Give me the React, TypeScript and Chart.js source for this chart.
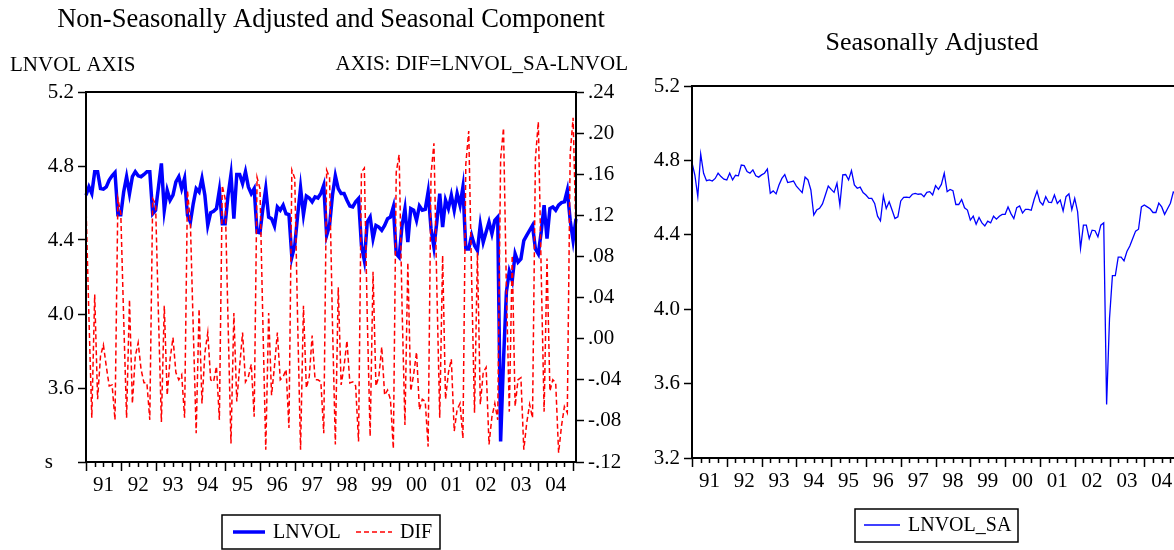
import React, { useEffect, useRef } from 'react';
import { Chart, registerables } from 'chart.js';

Chart.register(...registerables);

const FONT = '"Liberation Serif", "Times New Roman", serif';

const START_YEAR = 1991;
const yearLabels = ['91', '92', '93', '94', '95', '96', '97', '98', '99', '00', '01', '02', '03', '04'];

const leftTitle = 'Non-Seasonally Adjusted and Seasonal Component';
const rightTitle = 'Seasonally Adjusted';
const leftAxisCaption = 'LNVOL AXIS';
const rightAxisCaption = 'AXIS: DIF=LNVOL_SA-LNVOL';

// LNVOL (monthly, 1991M01 ... 2005M02)
const lnvol = [
  4.642, 4.687, 4.651, 4.769, 4.769, 4.678, 4.675, 4.687, 4.724, 4.747, 4.765, 4.537,
  4.537, 4.660, 4.742, 4.651, 4.742, 4.769, 4.747, 4.742, 4.754, 4.769, 4.769, 4.542,
  4.561, 4.687, 4.814, 4.561, 4.669, 4.615, 4.642, 4.714, 4.742, 4.678, 4.733, 4.533,
  4.497, 4.597, 4.678, 4.660, 4.733, 4.642, 4.479, 4.548, 4.555, 4.570, 4.669, 4.488,
  4.488, 4.642, 4.754, 4.515, 4.754, 4.754, 4.705, 4.769, 4.687, 4.651, 4.678, 4.443,
  4.439, 4.570, 4.678, 4.524, 4.515, 4.475, 4.579, 4.561, 4.588, 4.542, 4.537, 4.307,
  4.370, 4.533, 4.682, 4.537, 4.638, 4.627, 4.606, 4.633, 4.627, 4.651, 4.696, 4.425,
  4.479, 4.642, 4.747, 4.678, 4.651, 4.651, 4.615, 4.584, 4.579, 4.606, 4.624, 4.370,
  4.289, 4.497, 4.524, 4.407, 4.479, 4.470, 4.452, 4.479, 4.515, 4.524, 4.579, 4.325,
  4.307, 4.479, 4.570, 4.388, 4.570, 4.561, 4.506, 4.584, 4.561, 4.566, 4.660, 4.461,
  4.361, 4.497, 4.651, 4.470, 4.615, 4.570, 4.642, 4.561, 4.651, 4.588, 4.687, 4.352,
  4.352, 4.425, 4.370, 4.343, 4.483, 4.388, 4.443, 4.497, 4.434, 4.506, 4.524, 3.311,
  3.750, 4.120, 4.230, 4.180, 4.325, 4.280, 4.298, 4.397, 4.425, 4.452, 4.479, 4.352,
  4.325, 4.443, 4.588, 4.407, 4.570, 4.579, 4.561, 4.588, 4.602, 4.606, 4.669, 4.506,
  4.397, 4.515,
];

// DIF = LNVOL_SA - LNVOL (right axis)
const dif = [
  0.130, 0.022, -0.077, 0.043, -0.059, -0.017, -0.006, -0.027, -0.046, -0.045, -0.079, 0.136,
  0.122, 0.019, -0.077, 0.038, -0.063, -0.017, -0.004, -0.030, -0.043, -0.043, -0.079, 0.136,
  0.131, 0.022, -0.081, 0.032, -0.055, -0.020, 0.001, -0.033, -0.040, -0.035, -0.077, 0.144,
  0.113, 0.009, -0.092, 0.029, -0.063, -0.014, 0.006, -0.040, -0.042, -0.027, -0.079, 0.149,
  0.136, 0.016, -0.102, 0.025, -0.061, -0.027, 0.006, -0.042, -0.037, -0.025, -0.076, 0.157,
  0.146, 0.016, -0.108, 0.025, -0.055, -0.027, 0.006, -0.040, -0.037, -0.030, -0.087, 0.164,
  0.156, 0.016, -0.108, 0.032, -0.048, -0.037, 0.003, -0.040, -0.040, -0.042, -0.092, 0.164,
  0.157, 0.016, -0.103, 0.050, -0.045, -0.027, -0.002, -0.043, -0.042, -0.046, -0.100, 0.162,
  0.166, 0.022, -0.095, 0.065, -0.046, -0.037, -0.008, -0.055, -0.050, -0.059, -0.107, 0.162,
  0.179, 0.032, -0.084, 0.074, -0.051, -0.035, -0.013, -0.069, -0.059, -0.061, -0.105, 0.160,
  0.190, 0.050, -0.077, 0.081, -0.059, -0.033, -0.020, -0.090, -0.069, -0.063, -0.097, 0.170,
  0.202, 0.060, -0.072, 0.084, -0.064, -0.033, -0.028, -0.103, -0.076, -0.063, -0.079, 0.175,
  0.205, 0.048, -0.071, 0.081, -0.066, -0.040, -0.038, -0.108, -0.082, -0.064, -0.077, 0.175,
  0.211, 0.065, -0.071, 0.078, -0.051, -0.040, -0.043, -0.111, -0.085, -0.066, -0.072, 0.180,
  0.215, 0.100,
];

// LNVOL_SA (seasonally adjusted)
const lnvolSa = [
  4.788, 4.720, 4.605, 4.834, 4.731, 4.691, 4.695, 4.689, 4.703, 4.731, 4.713, 4.699,
  4.695, 4.731, 4.695, 4.720, 4.717, 4.775, 4.772, 4.740, 4.731, 4.749, 4.717, 4.710,
  4.722, 4.731, 4.754, 4.623, 4.636, 4.620, 4.668, 4.703, 4.724, 4.681, 4.685, 4.689,
  4.662, 4.644, 4.627, 4.710, 4.695, 4.641, 4.506, 4.533, 4.542, 4.566, 4.614, 4.662,
  4.644, 4.628, 4.677, 4.560, 4.722, 4.724, 4.695, 4.745, 4.668, 4.650, 4.656, 4.627,
  4.614, 4.596, 4.596, 4.569, 4.500, 4.475, 4.610, 4.542, 4.578, 4.533, 4.488, 4.497,
  4.582, 4.601, 4.603, 4.600, 4.618, 4.623, 4.618, 4.620, 4.605, 4.628, 4.632, 4.614,
  4.664, 4.644, 4.671, 4.731, 4.632, 4.644, 4.637, 4.563, 4.563, 4.590, 4.545, 4.533,
  4.479, 4.500, 4.457, 4.493, 4.464, 4.448, 4.473, 4.464, 4.500, 4.484, 4.500, 4.510,
  4.510, 4.550, 4.514, 4.487, 4.546, 4.555, 4.517, 4.537, 4.537, 4.532, 4.590, 4.635,
  4.578, 4.560, 4.605, 4.575, 4.573, 4.614, 4.569, 4.587, 4.528, 4.605, 4.620, 4.535,
  4.596, 4.524, 4.327, 4.452, 4.452, 4.380, 4.425, 4.422, 4.389, 4.452, 4.464, 3.488,
  3.950, 4.180, 4.180, 4.280, 4.280, 4.260, 4.310, 4.340, 4.380, 4.420, 4.430, 4.550,
  4.560, 4.550, 4.540, 4.520, 4.520, 4.570, 4.550, 4.510, 4.540, 4.570, 4.630, 4.620,
  4.610, 4.620,
];

const monthLabels = lnvol.map(
  (_, i) => `${START_YEAR + Math.floor(i / 12)}M${String((i % 12) + 1).padStart(2, '0')}`
);

const xTickLabel = (_v: any, index: number) =>
  index % 12 === 6 ? yearLabels[Math.floor(index / 12)] ?? '' : '';

const fmtLeft = (v: number) => (Math.abs(v - 3.2) < 1e-6 ? 's    ' : Number(v).toFixed(1));
const fmtDif = (v: number) => {
  const r = Math.round(v * 100);
  if (r === 0) return '.00';
  return (r < 0 ? '-.' : '.') + String(Math.abs(r)).padStart(2, '0');
};

type LegendItem = { label: string; color: string; width: number; dash: number[]; x0: number; x1: number; tx: number };

function makeDecor(cfg: {
  id: string;
  title: { text: string; x: number; y: number; size: number };
  captions?: { text: string; x: number; y: number; align: CanvasTextAlign }[];
  legendBox: [number, number, number, number];
  legendY: number;
  items: LegendItem[];
}) {
  return {
    id: cfg.id,
    afterDraw(chart: any) {
      const { ctx, chartArea: a } = chart;
      const xs = chart.scales.x;
      ctx.save();
      // plot frame
      ctx.strokeStyle = '#000';
      ctx.lineWidth = 2;
      ctx.strokeRect(a.left, a.top, a.right - a.left, a.bottom - a.top);
      // quarterly / yearly tick marks on the time axis
      ctx.lineWidth = 1.5;
      ctx.beginPath();
      for (let i = 0; i < monthLabels.length; i += 3) {
        const px = Math.round(xs.getPixelForValue(i)) + 0.5;
        const len = i % 12 === 0 ? 9 : 5;
        ctx.moveTo(px, a.bottom);
        ctx.lineTo(px, a.bottom + len);
      }
      ctx.stroke();
      ctx.fillStyle = '#000';
      ctx.textBaseline = 'middle';
      // title
      ctx.font = `${cfg.title.size}px ${FONT}`;
      ctx.textAlign = 'center';
      ctx.fillText(cfg.title.text, cfg.title.x, cfg.title.y);
      // axis captions
      ctx.font = `21px ${FONT}`;
      (cfg.captions || []).forEach((c) => {
        ctx.textAlign = c.align;
        ctx.fillText(c.text, c.x, c.y);
      });
      // legend
      const [bx, by, bw, bh] = cfg.legendBox;
      ctx.lineWidth = 1.5;
      ctx.strokeStyle = '#000';
      ctx.strokeRect(bx, by, bw, bh);
      ctx.font = `20px ${FONT}`;
      ctx.textAlign = 'left';
      cfg.items.forEach((it) => {
        ctx.strokeStyle = it.color;
        ctx.lineWidth = it.width;
        ctx.setLineDash(it.dash);
        ctx.beginPath();
        ctx.moveTo(it.x0, cfg.legendY);
        ctx.lineTo(it.x1, cfg.legendY);
        ctx.stroke();
        ctx.setLineDash([]);
        ctx.fillText(it.label, it.tx, cfg.legendY + 1);
      });
      ctx.restore();
    },
  };
}

const tickFont = { family: FONT, size: 21 };

export default function App() {
  const leftRef = useRef<HTMLCanvasElement>(null);
  const rightRef = useRef<HTMLCanvasElement>(null);

  useEffect(() => {
    const left = new Chart(leftRef.current as HTMLCanvasElement, {
      type: 'line',
      data: {
        labels: monthLabels,
        datasets: [
          {
            label: 'LNVOL',
            data: lnvol,
            yAxisID: 'y',
            borderColor: '#0000ff',
            borderWidth: 3.5,
            pointRadius: 0,
            tension: 0,
            order: 1,
          },
          {
            label: 'DIF',
            data: dif,
            yAxisID: 'y1',
            borderColor: '#ff0000',
            borderWidth: 1.5,
            borderDash: [5, 3],
            pointRadius: 0,
            tension: 0,
            order: 0,
          },
        ],
      },
      options: {
        responsive: false,
        animation: false,
        layout: { padding: { top: 92, left: 0, right: 0, bottom: 0 } },
        plugins: {
          legend: { display: false },
          tooltip: { enabled: false },
          title: { display: false },
        },
        scales: {
          x: {
            type: 'category',
            grid: { display: true, drawOnChartArea: false, drawTicks: true, tickLength: 9, tickColor: 'rgba(0,0,0,0)' },
            border: { display: false },
            ticks: { autoSkip: false, maxRotation: 0, minRotation: 0, padding: 2, color: '#000', font: tickFont, callback: xTickLabel },
            afterFit: (s: any) => { s.height = 88; },
          },
          y: {
            position: 'left',
            min: 3.2,
            max: 5.2,
            ticks: { stepSize: 0.4, color: '#000', font: tickFont, padding: 4, callback: (v: any) => fmtLeft(Number(v)) },
            grid: { drawOnChartArea: false, drawTicks: true, tickLength: 8, tickColor: '#000', tickWidth: 1.5 },
            border: { display: false },
            afterFit: (s: any) => { s.width = 86; },
          },
          y1: {
            position: 'right',
            min: -0.12,
            max: 0.24,
            ticks: { stepSize: 0.04, color: '#000', font: tickFont, padding: 4, callback: (v: any) => fmtDif(Number(v)) },
            grid: { drawOnChartArea: false, drawTicks: true, tickLength: 8, tickColor: '#000', tickWidth: 1.5 },
            border: { display: false },
            afterFit: (s: any) => { s.width = 64; },
          },
        },
      },
      plugins: [
        makeDecor({
          id: 'leftDecor',
          title: { text: leftTitle, x: 331, y: 20, size: 26.5 },
          captions: [
            { text: leftAxisCaption, x: 10, y: 65, align: 'left' },
            { text: rightAxisCaption, x: 628, y: 64, align: 'right' },
          ],
          legendBox: [222, 515, 218, 34],
          legendY: 532,
          items: [
            { label: 'LNVOL', color: '#0000ff', width: 3.5, dash: [], x0: 233, x1: 265, tx: 273 },
            { label: 'DIF', color: '#ff0000', width: 1.5, dash: [5, 3], x0: 356, x1: 392, tx: 400 },
          ],
        }),
      ],
    } as any);

    const right = new Chart(rightRef.current as HTMLCanvasElement, {
      type: 'line',
      data: {
        labels: monthLabels,
        datasets: [
          {
            label: 'LNVOL_SA',
            data: lnvolSa,
            borderColor: '#0000ff',
            borderWidth: 1.3,
            pointRadius: 0,
            tension: 0,
          },
        ],
      },
      options: {
        responsive: false,
        animation: false,
        layout: { padding: { left: 0, right: 58, top: 86, bottom: 0 } },
        plugins: {
          legend: { display: false },
          tooltip: { enabled: false },
          title: { display: false },
        },
        scales: {
          x: {
            type: 'category',
            grid: { display: true, drawOnChartArea: false, drawTicks: true, tickLength: 9, tickColor: 'rgba(0,0,0,0)' },
            border: { display: false },
            ticks: { autoSkip: false, maxRotation: 0, minRotation: 0, padding: 2, color: '#000', font: tickFont, callback: xTickLabel },
            afterFit: (s: any) => { s.height = 92; },
          },
          y: {
            position: 'left',
            min: 3.2,
            max: 5.2,
            ticks: { stepSize: 0.4, color: '#000', font: tickFont, padding: 4, callback: (v: any) => Number(v).toFixed(1) },
            grid: { drawOnChartArea: false, drawTicks: true, tickLength: 8, tickColor: '#000', tickWidth: 1.5 },
            border: { display: false },
            afterFit: (s: any) => { s.width = 52; },
          },
        },
      },
      plugins: [
        makeDecor({
          id: 'rightDecor',
          title: { text: rightTitle, x: 292, y: 43, size: 26 },
          legendBox: [215, 509, 163, 33],
          legendY: 525,
          items: [{ label: 'LNVOL_SA', color: '#0000ff', width: 1.3, dash: [], x0: 224, x1: 260, tx: 268 }],
        }),
      ],
    } as any);

    return () => {
      left.destroy();
      right.destroy();
    };
  }, []);

  return (
    <div style={{ position: 'fixed', left: 0, top: 0, width: 1174, height: 550, overflow: 'hidden', background: '#fff' }}>
      <canvas ref={leftRef} width={640} height={550} style={{ position: 'absolute', left: 0, top: 0 }} />
      <canvas ref={rightRef} width={600} height={550} style={{ position: 'absolute', left: 640, top: 0 }} />
    </div>
  );
}
